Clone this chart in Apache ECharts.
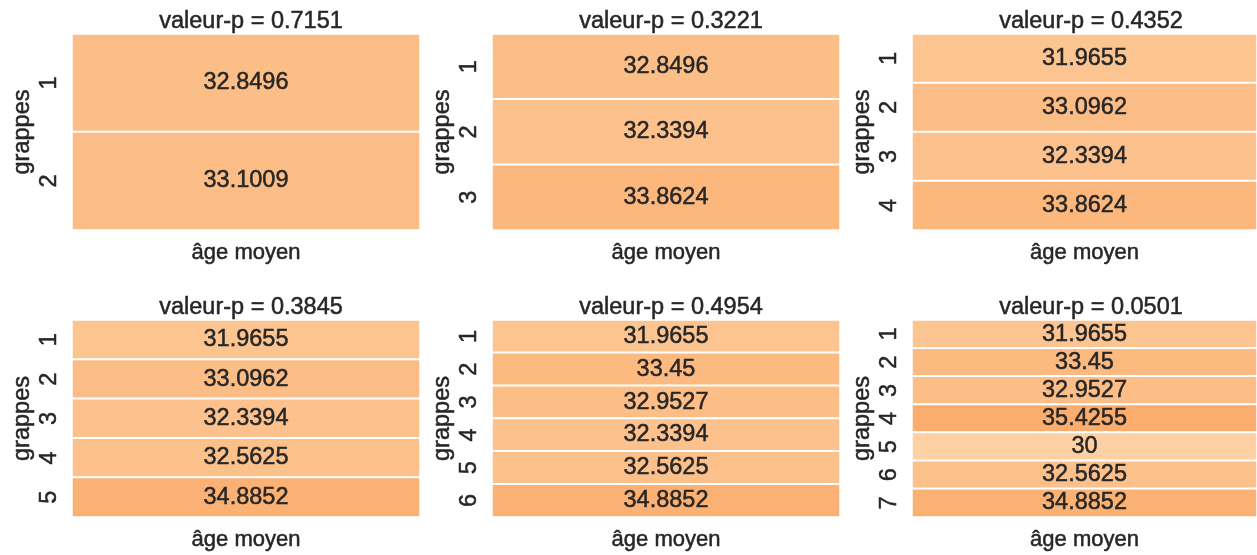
<!DOCTYPE html>
<html>
<head>
<meta charset="utf-8">
<script src="https://cdn.jsdelivr.net/npm/echarts@6/dist/echarts.min.js"></script>
<style>
  html, body { margin: 0; padding: 0; background: #ffffff; }
  #chart { width: 1257px; height: 555px; }
</style>
</head>
<body>
<div id="chart"></div>
<script>
// p-values of the test for each clustering (2 to 7 clusters)
const pValues = [0.7151, 0.3221, 0.4352, 0.3845, 0.4954, 0.0501];

// mean age per cluster, one array per clustering
const ages2 = [32.8496, 33.1009];
const ages3 = [32.8496, 32.3394, 33.8624];
const ages4 = [31.9655, 33.0962, 32.3394, 33.8624];
const ages5 = [31.9655, 33.0962, 32.3394, 32.5625, 34.8852];
const ages6 = [31.9655, 33.45, 32.9527, 32.3394, 32.5625, 34.8852];
const ages7 = [31.9655, 33.45, 32.9527, 35.4255, 30, 32.5625, 34.8852];

const columnLabel = 'âge moyen';
const rowAxisName = 'grappes';
const panels = [ages2, ages3, ages4, ages5, ages6, ages7];

// panel layout (3 columns x 2 rows)
const colLeft = [72, 492, 912];
const panelWidth = 348;
const rowTop = [34, 320];
const rowHeight = [196, 197];
const titleTop = [5, 291];

const FONT = 'Liberation Sans, Arial, sans-serif';
const TEXT = '#262626';
const SIZE = 23.5;
// a thin outline in the text colour gives the slightly heavier glyph weight
const heavy = { textBorderColor: TEXT, textBorderWidth: 0.5 };

const grids = [], xAxes = [], yAxes = [], series = [], titles = [];

panels.forEach((vals, k) => {
  const col = k % 3, row = Math.floor(k / 3);
  grids.push({
    left: colLeft[col], top: rowTop[row],
    width: panelWidth, height: rowHeight[row]
  });
  xAxes.push({
    type: 'category', gridIndex: k, data: [columnLabel],
    name: columnLabel, nameLocation: 'middle', nameGap: 12,
    nameTextStyle: Object.assign({ fontFamily: FONT, fontSize: 22, color: TEXT }, heavy),
    axisLabel: { show: false }, axisTick: { show: false },
    axisLine: { show: false }, splitLine: { show: false }
  });
  yAxes.push({
    type: 'category', gridIndex: k, inverse: true,
    data: vals.map((_, i) => String(i + 1)),
    name: rowAxisName, nameLocation: 'middle', nameGap: 37, nameRotate: 90,
    nameTextStyle: Object.assign({ fontFamily: FONT, fontSize: SIZE, color: TEXT }, heavy),
    axisLabel: Object.assign({ rotate: 90, margin: 10, fontFamily: FONT, fontSize: SIZE, color: TEXT }, heavy),
    axisTick: { show: false }, axisLine: { show: false }, splitLine: { show: false }
  });
  series.push({
    type: 'heatmap', xAxisIndex: k, yAxisIndex: k,
    data: vals.map((v, i) => [0, i, v]),
    itemStyle: { borderColor: '#ffffff', borderWidth: 2 },
    label: Object.assign({
      show: true, fontFamily: FONT, fontSize: SIZE, color: TEXT,
      formatter: p => String(p.value[2])
    }, heavy),
    emphasis: { disabled: true }
  });
  titles.push({
    text: 'valeur-p = ' + pValues[k].toFixed(4),
    left: colLeft[col] + panelWidth / 2, top: titleTop[row],
    textAlign: 'center',
    textStyle: Object.assign({ fontFamily: FONT, fontSize: SIZE, fontWeight: 'normal', color: TEXT }, heavy)
  });
});

const chart = echarts.init(document.getElementById('chart'), null, { renderer: 'canvas' });
chart.setOption({
  backgroundColor: '#ffffff',
  animation: false,
  title: titles,
  grid: grids,
  xAxis: xAxes,
  yAxis: yAxes,
  visualMap: {
    show: false, type: 'continuous', min: 30, max: 35.4255,
    seriesIndex: [0, 1, 2, 3, 4, 5],
    inRange: { color: ['#fdd1a3', '#fbad6e'] }
  },
  series: series
});
</script>
</body>
</html>
